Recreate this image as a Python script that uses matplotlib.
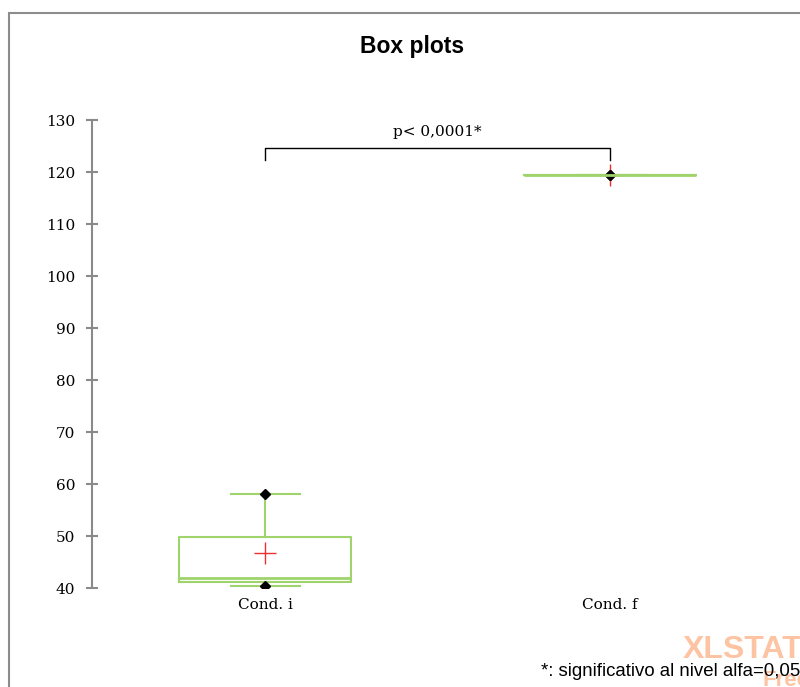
import matplotlib.pyplot as plt
import matplotlib.patches as patches
import numpy as np

# box plot statistics
categories = ['Cond. i', 'Cond. f']
mins = [40.3, 119.4]
q1 = [41.1, 119.4]
medians = [41.9, 119.4]
q3 = [49.8, 119.4]
maxs = [58.0, 119.4]
means = [46.7, 119.4]
yticks = [40, 50, 60, 70, 80, 90, 100, 110, 120, 130]
p_label = 'p< 0,0001*'

W, H = 800, 687
fig = plt.figure(figsize=(W / 100, H / 100), dpi=100)

# axes placed in pixel terms: y axis at x=92, 40 -> y=588, 130 -> y=120
left, right, bottom, top = 92, 800, 588, 120
ax = fig.add_axes([left / W, 1 - bottom / H, (right - left) / W, (bottom - top) / H])
ax.set_xlim(1 - 173 / 345, 2 + 190 / 345)
ax.set_ylim(40, 130)

green = '#9fd46c'
serif = 'DejaVu Serif'
stats = []
for i in range(len(categories)):
    stats.append(dict(med=medians[i], q1=q1[i], q3=q3[i], whislo=mins[i],
                      whishi=maxs[i], mean=means[i], fliers=[], label=categories[i]))
pos = np.arange(1, len(categories) + 1)
ax.bxp(stats, positions=pos, widths=0.5, capwidths=0.2, showmeans=False,
       showfliers=False, patch_artist=False,
       boxprops=dict(color=green, linewidth=1.5),
       medianprops=dict(color=green, linewidth=2),
       whiskerprops=dict(color=green, linewidth=1.5),
       capprops=dict(color=green, linewidth=1.5))

ax.plot(pos, means, linestyle='none', marker='+', color='#ee3030',
        markersize=16, markeredgewidth=1)
ax.plot(pos, mins, linestyle='none', marker='D', color='black', markersize=5.5)
ax.plot(pos, maxs, linestyle='none', marker='D', color='black', markersize=5.5)

# significance bracket
ax.plot([1, 1, 2, 2], [122.3, 124.6, 124.6, 122.3], color='black', linewidth=1)
ax.text(1.5, 126.3, p_label, ha='center', va='bottom', fontsize=11, family=serif)

ax.set_yticks(yticks)
ax.set_xticks(pos)
ax.set_xticklabels(categories, family=serif, fontsize=11)
for lab in ax.get_yticklabels():
    lab.set_family(serif)
    lab.set_fontsize(11)
ax.tick_params(axis='y', direction='inout', length=9, width=1.5, color='#8a8a8a', pad=7.5)
ax.tick_params(axis='x', length=0, pad=7)
for s in ['top', 'right', 'bottom']:
    ax.spines[s].set_visible(False)
ax.spines['left'].set_color('#8a8a8a')
ax.spines['left'].set_linewidth(1.5)
ax.patch.set_visible(False)

# outer chart frame
fig.patches.append(patches.Rectangle((8.5 / W, -0.1), 1.2, 1 - 12.5 / H + 0.1,
                                     transform=fig.transFigure, fill=False,
                                     edgecolor='#8c8c8c', linewidth=1.5))

fig.text(412 / W, 1 - 47 / H, 'Box plots', ha='center', va='center',
         fontsize=16.5, fontweight='bold', family='Liberation Sans')
fig.text(683 / W, 1 - 650 / H, 'XLSTAT', ha='left', va='center', fontsize=23,
         fontweight='bold', family='Liberation Sans', color='#fdc4a3')
fig.text(762 / W, 1 - 681 / H, 'Free', ha='left', va='center', fontsize=16,
         fontweight='bold', family='Liberation Sans', color='#fdc4a3')
fig.text(541 / W, 1 - 671 / H, '*: significativo al nivel alfa=0,05',
         ha='left', va='center', fontsize=13.4, family='Liberation Sans')

fig.savefig('out.png', dpi=100)
